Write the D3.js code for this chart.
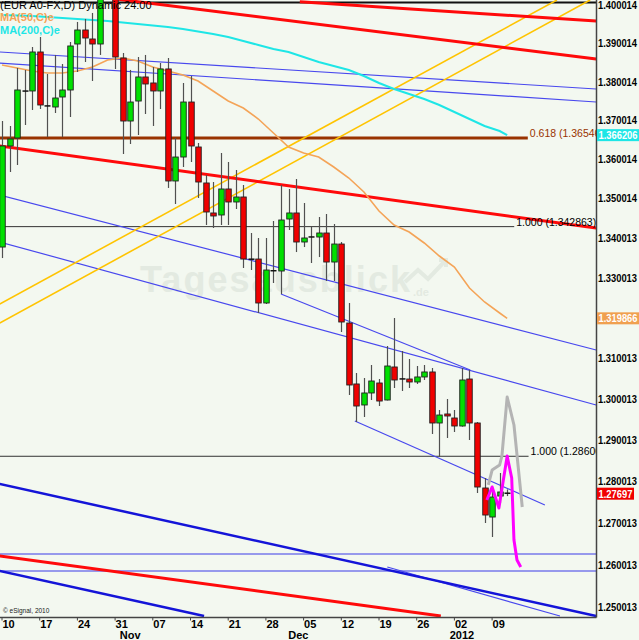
<!DOCTYPE html>
<html><head><meta charset="utf-8">
<script src="https://cdn.jsdelivr.net/npm/d3@7"></script>
<style>html,body{margin:0;padding:0;background:#f3f8f0;} svg{display:block}</style>
</head><body>
<svg id="c" width="639" height="640"></svg>
<script>
// ---- data ----
const opens =[1.33771,1.36342,1.36548,1.37750,1.37762,1.38778,1.37380,1.37347,1.37606,1.37788,1.38987,1.39354,1.39118,1.38987,1.41400,1.41350,1.38621,1.36985,1.37502,1.38126,1.37970,1.37762,1.38335,1.35446,1.36059,1.37476,1.36316,1.35395,1.34632,1.34581,1.35242,1.34911,1.35038,1.33470,1.33469,1.32368,1.33170,1.33168,1.34479,1.34632,1.33898,1.34020,1.34024,1.34125,1.33394,1.33847,1.31870,1.30364,1.29849,1.30143,1.30388,1.29971,1.30782,1.30486,1.30486,1.30413,1.30536,1.30659,1.29409,1.29629,1.29531,1.29336,1.30486,1.29409,1.27834,1.27137,1.27641,1.27720];
const highs =[1.36985,1.36857,1.38361,1.38309,1.38909,1.39171,1.38204,1.38700,1.38465,1.39040,1.39565,1.39644,1.39802,1.42460,1.41800,1.41600,1.38752,1.38309,1.38647,1.38700,1.38387,1.38491,1.38621,1.36548,1.37970,1.38152,1.36419,1.35599,1.35420,1.36162,1.35931,1.35726,1.35344,1.34125,1.33999,1.33999,1.34429,1.35344,1.35242,1.35497,1.34886,1.34277,1.34530,1.34606,1.34353,1.33898,1.32368,1.30634,1.30511,1.30831,1.30486,1.31300,1.31995,1.31176,1.30979,1.30806,1.30831,1.30757,1.29727,1.29996,1.29727,1.30757,1.30708,1.29433,1.28075,1.27858,1.28196,1.27800];
const lows  =[1.33494,1.35675,1.35854,1.36882,1.37269,1.37295,1.36573,1.37192,1.36573,1.37088,1.38256,1.38517,1.38022,1.38700,1.40850,1.38334,1.36136,1.36393,1.36624,1.37166,1.36857,1.37295,1.35268,1.34860,1.35803,1.35931,1.35013,1.34328,1.34252,1.34328,1.34328,1.34733,1.33243,1.33193,1.32119,1.32343,1.32868,1.32593,1.34201,1.33645,1.33771,1.33369,1.33519,1.32918,1.32918,1.31647,1.30094,1.29433,1.29555,1.29971,1.29824,1.29960,1.30265,1.30192,1.30265,1.30364,1.30462,1.29141,1.28583,1.29044,1.29190,1.29320,1.28995,1.27714,1.26993,1.26660,1.27473,1.27640];
const closes=[1.36342,1.36522,1.37788,1.37770,1.38778,1.37399,1.37370,1.37580,1.37788,1.38935,1.39354,1.39144,1.38987,1.41400,1.41300,1.38647,1.36985,1.37476,1.38126,1.37944,1.37762,1.38335,1.35446,1.36059,1.37476,1.36342,1.35420,1.34657,1.34556,1.35242,1.34911,1.35038,1.33469,1.33460,1.32368,1.33193,1.33180,1.34454,1.34632,1.33898,1.33999,1.34030,1.34125,1.33394,1.33847,1.31895,1.30339,1.29824,1.30143,1.30437,1.29946,1.30806,1.30462,1.30490,1.30413,1.30536,1.30659,1.29409,1.29604,1.29580,1.29336,1.30462,1.29409,1.27858,1.27185,1.27617,1.27738,1.27697];

const weekLabels=["10","17","24","31","07","14","21","28","05","12","19","26","02","09"];
const weekIdx   =[0,5,10,15,20,25,30,35,40,45,50,55,60,65];
const monthLabels=["Nov","Dec","2012"];
const monthIdx   =[17,39.3,61];

const priceTicks=[1.400014,1.390014,1.380014,1.370014,1.360014,1.350014,1.340013,1.330013,1.320013,1.310013,1.300013,1.290013,1.280013,1.270013,1.260013,1.250013];
const priceTickLabels=["1.400014","1.390014","1.380014","1.370014","1.360014","1.350014","1.340013","1.330013","1.320013","1.310013","1.300013","1.290013","1.280013","1.270013","1.260013","1.250013"];

const maIdx=[0,2,4,6,8,10,12,14,16,18,20,22,24,26,28,30,32,34,36,38,40,42,44,46,48,50,52,54,56,58,60,62,64,66,67];
const ma50 =[1.38438,1.38361,1.38283,1.38230,1.38230,1.38283,1.38387,1.38569,1.38621,1.38543,1.38387,1.38283,1.38178,1.38022,1.37762,1.37502,1.37321,1.37037,1.36676,1.36316,1.36162,1.36059,1.35803,1.35522,1.35166,1.34683,1.34328,1.34150,1.33873,1.33545,1.33268,1.32743,1.32393,1.32119,1.31987];
const ma200=[1.39749,1.39736,1.39722,1.39696,1.39670,1.39643,1.39617,1.39591,1.39552,1.39512,1.39473,1.39433,1.39381,1.39315,1.39250,1.39171,1.39066,1.38961,1.38856,1.38778,1.38647,1.38517,1.38413,1.38309,1.38152,1.37970,1.37814,1.37684,1.37554,1.37399,1.37218,1.37037,1.36857,1.36727,1.36621];

const grayIdx=[64.5,65,66,66.3,67,67.9,69];
const grayVal=[1.27907,1.28268,1.28389,1.28607,1.30045,1.29360,1.27377];
const magIdx=[64.3,65,65.9,67,67.6,67.9,68.3,68.8];
const magVal=[1.27545,1.27858,1.27353,1.28607,1.28075,1.26588,1.26112,1.25946];

// trend lines: [startIdx, startPrice, endIdx, endPrice]
const redThick  =[[-0.3,1.36341,78.8,1.34251],[-0.3,1.26207,58.2,1.24788],[13.0,1.40223,78.8,1.38595],[39.5,1.40100,78.8,1.39590]];
const blueThick =[[-0.3,1.27930,78.8,1.24788],[-0.3,1.25851,26.8,1.24788]];
const blueThin  =[[-0.3,1.38778,78.8,1.37814],[-0.3,1.38490,78.8,1.37477],[-0.3,1.35089,78.8,1.31201],[-0.3,1.33898,78.8,1.29849],[37.0,1.32593,62.1,1.30708],[46.8,1.29458,72.0,1.27425],[51.1,1.25945,74.0,1.24788]];
const yellow    =[[-0.3,1.32343,73.6,1.40144],[-0.3,1.31870,78.0,1.40144]];
const hBlue=[1.26254,1.25851];
const fibLevels=[1.365463,1.342863,1.286003];
const fibLabels=["0.618 (1.365463","1.000 (1.342863)","1.000 (1.286003"];
const fibEndIdx=[70.0,68.2,70.1];
const topLine=1.4008;
const lastPrice=1.27697, ma200Last=1.366206, ma50Last=1.319866;

// ---- drawing ----
const W=639,H=640, plotR=596.5, plotB=617.5;
const svg=d3.select("#c");
const x=d3.scaleLinear().domain([0,79]).range([2,2+79*7.54]);
const y=d3.scaleLog().domain([1.39,1.25]).range([43.5,607]);

svg.append("rect").attr("width",W).attr("height",H).attr("fill","#f3f8f0");
svg.append("defs").append("clipPath").attr("id","pc").append("rect").attr("x",0).attr("y",0).attr("width",plotR).attr("height",plotB);
const g=svg.append("g").attr("clip-path","url(#pc)");

// watermark
const wm=g.append("g").attr("fill","#e3eae1");
wm.append("text").attr("x",140).attr("y",292).attr("font-family","Liberation Sans, Arial, sans-serif").attr("font-weight","bold").attr("font-size",36).attr("textLength",270).text("Tagesausblick");
wm.append("text").attr("x",413).attr("y",296).attr("font-family","Liberation Sans, Arial, sans-serif").attr("font-weight","bold").attr("font-size",11).text(".de");
g.append("path").attr("d","M405,282 L418,270 L428,279 L446,260 M439,260 L446,260 L446,267").attr("fill","none").attr("stroke","#e3eae1").attr("stroke-width",4);

function seg(arr,color,w){
  g.selectAll(null).data(arr).enter().append("line")
   .attr("x1",d=>x(d[0])).attr("y1",d=>y(d[1])).attr("x2",d=>x(d[2])).attr("y2",d=>y(d[3]))
   .attr("stroke",color).attr("stroke-width",w);
}
// horizontal lines
g.append("line").attr("x1",0).attr("x2",plotR).attr("y1",y(topLine)).attr("y2",y(topLine)).attr("stroke","#111").attr("stroke-width",2);
g.selectAll(null).data(hBlue).enter().append("line").attr("x1",0).attr("x2",plotR).attr("y1",d=>y(d)).attr("y2",d=>y(d)).attr("stroke","#3a3ae8").attr("stroke-width",1.2);
g.selectAll(null).data(fibLevels).enter().append("line").attr("x1",0).attr("x2",(d,i)=>x(fibEndIdx[i])-2).attr("y1",d=>y(d)).attr("y2",d=>y(d))
  .attr("stroke",(d,i)=>i===0?"#993300":"#333").attr("stroke-width",(d,i)=>i===0?3:1);

seg(blueThin,"#4848ee",1.2);
seg(yellow,"#ffc400",1.6);
seg(redThick,"#ff0a0a",3);
seg(blueThick,"#1414d8",2.5);

// moving averages
const line=d3.line().x(d=>x(d[0])).y(d=>y(d[1]));
g.append("path").attr("d",line(maIdx.map((d,i)=>[d,ma200[i]]))).attr("fill","none").attr("stroke","#1ee6e6").attr("stroke-width",2);
g.append("path").attr("d",line(maIdx.map((d,i)=>[d,ma50[i]]))).attr("fill","none").attr("stroke","#f4a458").attr("stroke-width",1.6);

// candles
const cw=5.5;
const cg=g.append("g");
opens.forEach((o,i)=>{
  const c=closes[i], cx=Math.round(x(i))+0.5;
  cg.append("line").attr("x1",cx).attr("x2",cx).attr("y1",y(highs[i])).attr("y2",y(lows[i])).attr("stroke","#505050").attr("stroke-width",1.2);
  const y1=y(Math.max(o,c)), y2=y(Math.min(o,c));
  if(y2-y1<1.6){
    cg.append("line").attr("x1",cx-3).attr("x2",cx+3).attr("y1",(y1+y2)/2).attr("y2",(y1+y2)/2).attr("stroke","#111").attr("stroke-width",1.5);
  } else {
    cg.append("rect").attr("x",cx-cw/2).attr("y",y1).attr("width",cw).attr("height",y2-y1)
      .attr("fill",c>=o?"#00e000":"#f00000").attr("stroke","#202020").attr("stroke-width",0.9);
  }
});

// projections
g.append("path").attr("d",line(grayIdx.map((d,i)=>[d,grayVal[i]]))).attr("fill","none").attr("stroke","#b4b4b4").attr("stroke-width",3).attr("stroke-linejoin","round");
g.append("path").attr("d",line(magIdx.map((d,i)=>[d,magVal[i]]))).attr("fill","none").attr("stroke","#ff00ff").attr("stroke-width",3).attr("stroke-linejoin","round");

// fib labels
const ff="Liberation Sans, Arial, sans-serif";
g.selectAll(null).data(fibLevels).enter().append("text").attr("x",(d,i)=>x(fibEndIdx[i])).attr("y",d=>y(d)-1)
  .attr("font-family",ff).attr("font-size",10.5).attr("fill",(d,i)=>i===0?"#993300":"#000").text((d,i)=>fibLabels[i]);

// legend / title
svg.append("text").attr("x",0).attr("y",9).attr("font-family",ff).attr("font-size",11).attr("fill","#000").text("(EUR A0-FX,D) Dynamic 24:00");
svg.append("text").attr("x",0).attr("y",21).attr("font-family",ff).attr("font-size",11).attr("font-weight","bold").attr("fill","#f4a458").text("MA(50,C)e");
svg.append("text").attr("x",0).attr("y",34).attr("font-family",ff).attr("font-size",11).attr("font-weight","bold").attr("fill","#1ee6e6").text("MA(200,C)e");
svg.append("text").attr("x",3).attr("y",613).attr("font-family",ff).attr("font-size",6.5).attr("fill","#222").text("© eSignal, 2010");

// axes
svg.append("line").attr("x1",plotR).attr("x2",plotR).attr("y1",0).attr("y2",plotB).attr("stroke","#444").attr("stroke-width",1.5);
svg.append("line").attr("x1",0).attr("x2",plotR).attr("y1",plotB).attr("y2",plotB).attr("stroke","#444").attr("stroke-width",1.5);
svg.selectAll(null).data(priceTicks).enter().append("text").attr("x",598).attr("y",d=>y(d)+4)
  .attr("font-family",ff).attr("font-size",10).attr("font-weight","bold").attr("fill","#000")
  .attr("textLength",39).attr("lengthAdjust","spacingAndGlyphs").text((d,i)=>priceTickLabels[i]);
function box(v,label,fill,w){
  const yy=y(v);
  svg.append("rect").attr("x",597).attr("y",yy-6).attr("width",w).attr("height",12).attr("fill",fill);
  svg.append("text").attr("x",598.5).attr("y",yy+4).attr("font-family",ff).attr("font-size",10).attr("font-weight","bold").attr("fill","#fff")
    .attr("textLength",w-3).attr("lengthAdjust","spacingAndGlyphs").text(label);
}
box(ma200Last,"1.366206","#1ee6e6",42);
box(ma50Last,"1.319866","#f0a050",42);
box(lastPrice,"1.27697","#f00000",37);

svg.selectAll(null).data(weekIdx).enter().append("line").attr("x1",d=>x(d)).attr("x2",d=>x(d)).attr("y1",plotB).attr("y2",plotB+3).attr("stroke","#444");
svg.selectAll(null).data(weekIdx).enter().append("text").attr("x",d=>x(d)+0.5).attr("y",628)
  .attr("font-family",ff).attr("font-size",11).attr("font-weight","bold").attr("fill","#000").text((d,i)=>weekLabels[i]);
svg.selectAll(null).data(monthIdx).enter().append("text").attr("x",d=>x(d)).attr("y",639).attr("text-anchor","middle")
  .attr("font-family",ff).attr("font-size",11).attr("font-weight","bold").attr("fill","#000").text((d,i)=>monthLabels[i]);
</script>
</body></html>
